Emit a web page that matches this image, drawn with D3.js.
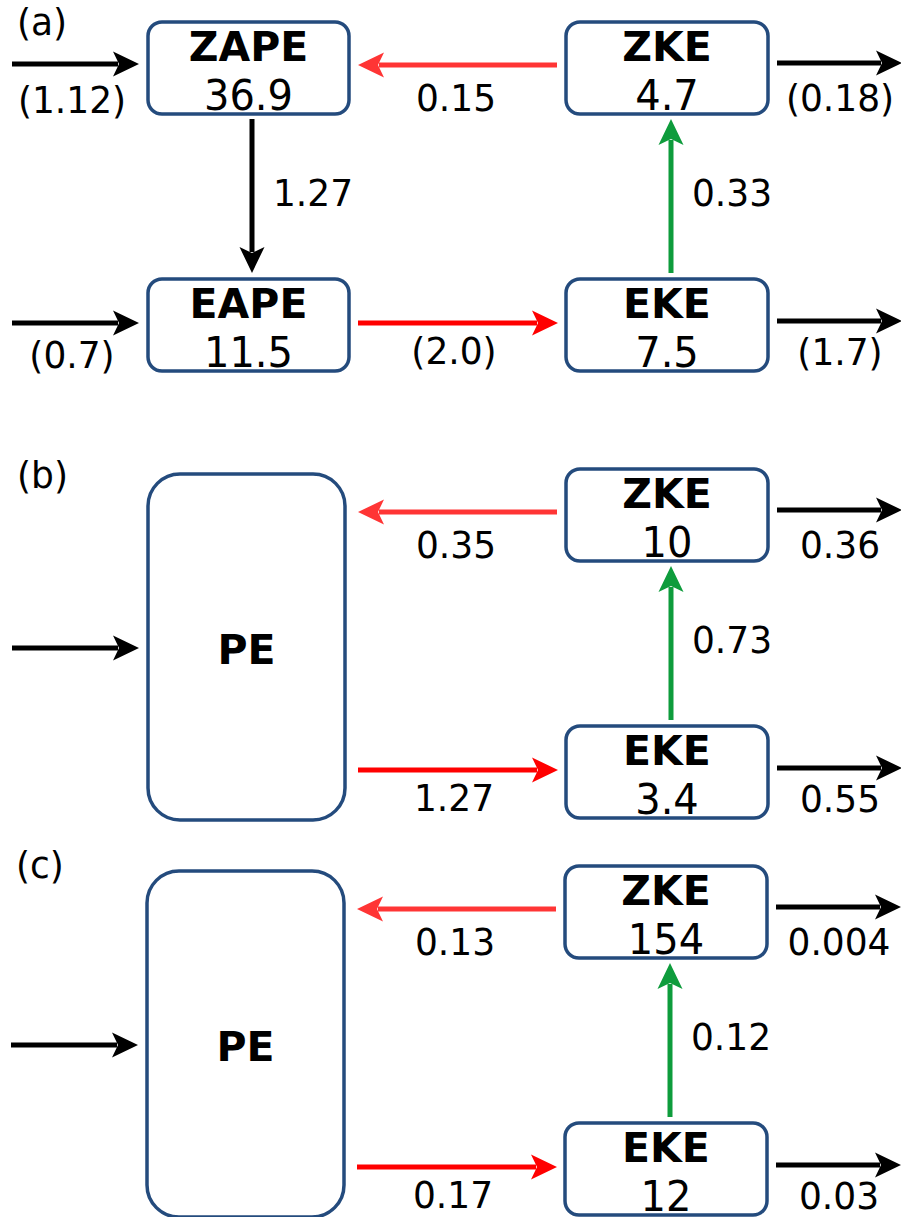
<!DOCTYPE html>
<html>
<head>
<meta charset="utf-8">
<script src="https://cdn.jsdelivr.net/npm/d3@7"></script>
<style>
  html, body { margin: 0; padding: 0; background: #fff; }
  svg { display: block; }
  text { font-family: "DejaVu Sans", sans-serif; fill: #000; }
</style>
</head>
<body>
<script>
// Energy reservoirs and conversion rates for the three cases
const panelLabels = ["(a)", "(b)", "(c)"];
const zapeValue = "36.9";
const eapeValue = "11.5";
const zapeInput = "(1.12)";
const eapeInput = "(0.7)";
const zapeToEape = "1.27";
const zkeValues = ["4.7", "10", "154"];
const ekeValues = ["7.5", "3.4", "12"];
const zkeToPotential = ["0.15", "0.35", "0.13"];
const potentialToEke = ["(2.0)", "1.27", "0.17"];
const ekeToZke = ["0.33", "0.73", "0.12"];
const zkeOutput = ["(0.18)", "0.36", "0.004"];
const ekeOutput = ["(1.7)", "0.55", "0.03"];

const W = 901, H = 1217;
const svg = d3.select("body").append("svg")
  .attr("width", W).attr("height", H)
  .attr("viewBox", `0 0 ${W} ${H}`);
svg.append("rect").attr("width", W).attr("height", H).attr("fill", "#fff");

const COL = {
  box: "#244b7d",
  redLight: "#ff3535",
  red: "#ff0000",
  green: "#0e9c3c",
  black: "#000"
};

// vertical placement of each panel
const panelY = d3.scaleOrdinal().domain(panelLabels).range([0, 447, 844]);
const panelX = d3.scaleOrdinal().domain(panelLabels).range([0, 0, -1]);
const panelLabelDy = d3.scaleOrdinal().domain(panelLabels).range([35, 41, 34]);

// arrow with a stealth-style head, tip at (x2, y2)
function arrow(g, x1, y1, x2, y2, color) {
  const L = 26, N = 20, HW = 12.5;
  const dx = x2 - x1, dy = y2 - y1;
  const len = Math.hypot(dx, dy);
  const ux = dx / len, uy = dy / len;
  const px = -uy, py = ux;
  const ex = x2 - ux * (N + 1), ey = y2 - uy * (N + 1);
  g.append("line")
    .attr("x1", x1).attr("y1", y1).attr("x2", ex).attr("y2", ey)
    .attr("stroke", color).attr("stroke-width", 5);
  const bx = x2 - ux * L, by = y2 - uy * L;
  const nx = x2 - ux * N, ny = y2 - uy * N;
  const pts = [
    [x2, y2],
    [bx + px * HW, by + py * HW],
    [nx, ny],
    [bx - px * HW, by - py * HW]
  ];
  g.append("path").attr("d", d3.line()(pts) + "Z").attr("fill", color);
}

function box(g, x, y, w, h, r) {
  g.append("rect")
    .attr("x", x).attr("y", y).attr("width", w).attr("height", h)
    .attr("rx", r).attr("ry", r)
    .attr("fill", "#fff").attr("stroke", COL.box).attr("stroke-width", 3.5);
}

function boxText(g, cx, top, title, value) {
  g.append("text").attr("x", cx).attr("y", top + 39)
    .attr("text-anchor", "middle").attr("font-size", 41).attr("font-weight", "bold")
    .text(title);
  g.append("text")
    .attr("transform", `translate(${cx},${top + 88}) scale(1,1.05)`)
    .attr("text-anchor", "middle").attr("font-size", 40)
    .text(value);
}

// rate labels
function label(g, cx, baseline, t) {
  g.append("text")
    .attr("transform", `translate(${cx},${baseline}) scale(1,1.06)`)
    .attr("text-anchor", "middle").attr("font-size", 36).text(t);
}

panelLabels.forEach((p, i) => {
  const g = svg.append("g")
    .attr("transform", `translate(${panelX(p)},${panelY(p)})`);

  g.append("text")
    .attr("transform", `translate(17,${panelLabelDy(p)}) scale(1,1.06)`)
    .attr("font-size", 36).text(p);

  // kinetic energy boxes
  box(g, 566, 22, 202, 92, 14);
  box(g, 566, 279, 202, 92, 14);

  if (i === 0) {
    box(g, 148, 22, 201, 92, 14);
    box(g, 148, 279, 201, 92, 14);
    boxText(g, 248.5, 22, "ZAPE", zapeValue);
    boxText(g, 248.5, 279, "EAPE", eapeValue);

    arrow(g, 12, 64, 139, 64, COL.black);
    label(g, 72, 113, zapeInput);
    arrow(g, 12, 323, 139, 323, COL.black);
    label(g, 72, 368, eapeInput);

    arrow(g, 252, 119, 252, 273, COL.black);
    label(g, 313, 206, zapeToEape);
  } else {
    box(g, 148, 27, 197, 346, 32);
    g.append("text").attr("x", 246.5).attr("y", 217)
      .attr("text-anchor", "middle").attr("font-size", 41).attr("font-weight", "bold")
      .text("PE");
    arrow(g, 12, 201, 139, 201, COL.black);
  }

  boxText(g, 667, 22, "ZKE", zkeValues[i]);
  boxText(g, 667, 279, "EKE", ekeValues[i]);

  // ZKE -> potential energy
  arrow(g, 557, 65, 358, 65, COL.redLight);
  label(g, 456, 111, zkeToPotential[i]);

  // potential energy -> EKE
  arrow(g, 358, 323, 558, 323, COL.red);
  label(g, 454, 364, potentialToEke[i]);

  // EKE -> ZKE
  arrow(g, 671, 273, 671, 119, COL.green);
  label(g, 732, 206, ekeToZke[i]);

  // dissipation
  arrow(g, 777, 63, 902, 63, COL.black);
  label(g, 840, 111, zkeOutput[i]);
  arrow(g, 777, 321, 902, 321, COL.black);
  label(g, 840, 365, ekeOutput[i]);
});
</script>
</body>
</html>
